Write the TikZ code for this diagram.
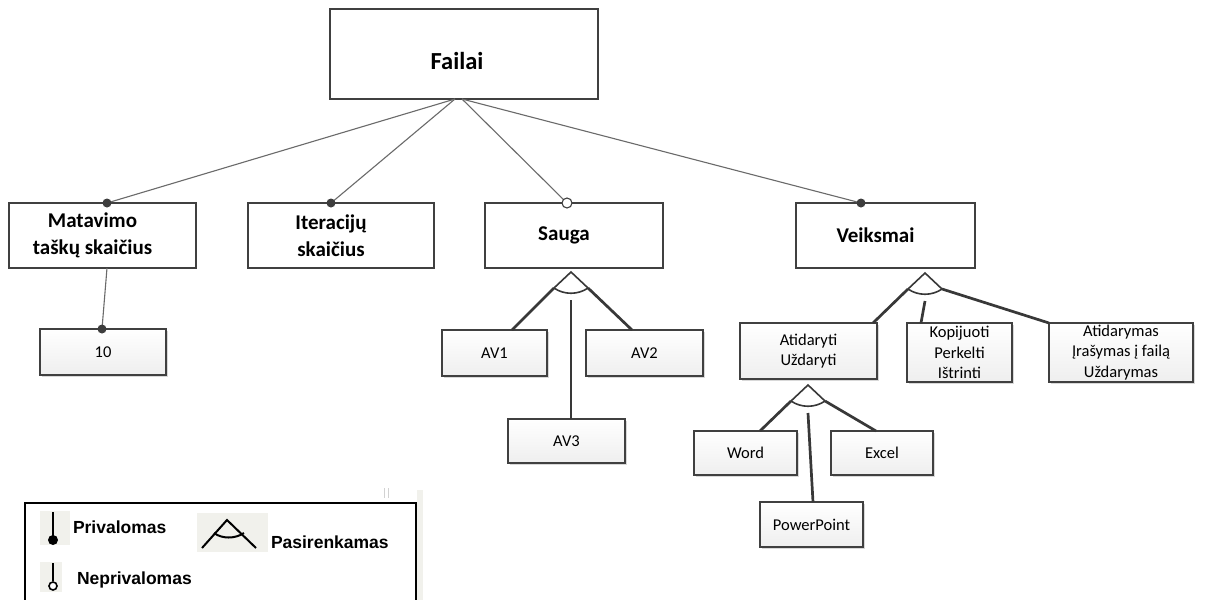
\documentclass[tikz,border=0pt]{standalone}
\usepackage{fontspec}
\setmainfont{Carlito}
\newfontfamily\legendfont{Liberation Sans}
\usetikzlibrary{shadows}

\definecolor{boxline}{HTML}{404040}
\definecolor{linkgrey}{HTML}{6a6a6a}
\definecolor{linkdark}{HTML}{383838}
\definecolor{dotgrey}{HTML}{3d3d3d}
\definecolor{scanhaze}{HTML}{F1F1EC}

\tikzset{
  % "or" group symbol: two legs from the apex joined by an arc
  altgroup/.pic={
    \draw[groupline] (-17,16) -- (0,0) -- (17,16);
    \draw[groupline] (-17,16) .. controls (-7,23) and (7,23) .. (17,16);
    \coordinate (-l) at (-17,16);
    \coordinate (-r) at (17,16);
    \coordinate (-m) at (0,28);
  }
}

\begin{document}
\begin{tikzpicture}[x=1pt,y=-1pt,
  every node/.style={inner sep=0pt, outer sep=0pt},
  frame/.style={rectangle, draw=boxline, line width=1.2pt, fill=white},
  topbox/.style={frame, minimum width=268pt, minimum height=90pt},
  toptext/.style={font=\fontsize{24.5}{29}\selectfont\bfseries},
  featbox/.style={frame, minimum height=65pt},
  feattext/.style={align=center, font=\fontsize{21}{27}\selectfont\bfseries},
  leafbox/.style={frame, top color=white, bottom color=gray!13,
    drop shadow={shadow xshift=1.8pt, shadow yshift=-1.8pt, fill=gray!60, opacity=0.5},
    align=center, font=\fontsize{16.5}{20.5}\selectfont},
  thin link/.style={draw=linkgrey, line width=1.1pt},
  thick link/.style={draw=linkdark, line width=2.7pt},
  groupline/.style={draw=linkdark, line width=1.6pt},
  dot/.style={circle, fill=dotgrey, minimum size=9pt},
  open dot/.style={circle, draw=dotgrey, fill=white, line width=1.1pt, minimum size=10pt},
  legendtext/.style={anchor=west, font=\legendfont\bfseries\fontsize{17.5}{20}\selectfont},
  legendline/.style={draw=black, line width=2pt},
]
\clip (0,0) rectangle (1219,600);
\fill[white] (0,0) rectangle (1219,600);

% root
\node[topbox, label={[toptext, xshift=-7pt, yshift=-7pt]center:Failai}] (failai) at (464,54) {};

% first level features
\node[featbox, minimum width=187pt, label={[feattext, xshift=-10pt]center:Matavimo\\taškų skaičius}] (mat) at (102.5,235.5) {};
\node[featbox, minimum width=186pt, label={[feattext, xshift=-10pt]center:Iteracijų\\skaičius}] (iter) at (341,235.5) {};
\node[featbox, minimum width=178pt, label={[feattext, xshift=-10pt]center:Sauga}] (sauga) at (574,235.5) {};
\node[featbox, minimum width=179pt, label={[feattext, xshift=-10pt]center:Veiksmai}] (veik) at (885.5,235.5) {};

% leaves
\node[leafbox, minimum width=126pt, minimum height=46pt] (ten) at (103,352) {10};
\node[leafbox, minimum width=105pt, minimum height=46pt] (av1) at (494.5,353) {AV1};
\node[leafbox, minimum width=117pt, minimum height=46pt] (av2) at (644.5,353) {AV2};
\node[leafbox, minimum width=117pt, minimum height=44pt] (av3) at (566.5,441) {AV3};
\node[leafbox, minimum width=137pt, minimum height=56pt] (atid) at (808.5,351) {Atidaryti\\Uždaryti};
\node[leafbox, minimum width=105pt, minimum height=59pt] (kop) at (959.5,352.5) {Kopijuoti\\Perkelti\\Ištrinti};
\node[leafbox, minimum width=144pt, minimum height=59pt] (atm) at (1121,352.5) {Atidarymas\\Įrašymas į failą\\Uždarymas};
\node[leafbox, minimum width=103pt, minimum height=44pt] (word) at (745.5,453) {Word};
\node[leafbox, minimum width=102pt, minimum height=44pt] (excel) at (882,453) {Excel};
\node[leafbox, minimum width=103pt, minimum height=45pt] (pp) at (811.5,524.5) {PowerPoint};

% root connectors
\coordinate (fL) at ([xshift=-9pt]failai.south);
\coordinate (fR) at ([xshift=-2pt]failai.south);
\coordinate (mTop) at ([xshift=4.5pt]mat.north);
\coordinate (iTop) at ([xshift=-10pt]iter.north);
\coordinate (sTop) at ([xshift=-7pt]sauga.north);
\coordinate (vTop) at ([xshift=-24.5pt]veik.north);
\coordinate (mBot) at ([xshift=4.5pt]mat.south);
\coordinate (tTop) at ([xshift=-1pt]ten.north);
\draw[thin link] (fL) -- (mTop);
\draw[thin link] (fL) -- (iTop);
\draw[thin link] (fR) -- (sTop);
\draw[thin link] (fR) -- (vTop);
\draw[thin link] (mBot) -- (tTop);
\node[dot] at (mTop) {};
\node[dot] at (iTop) {};
\node[open dot] at (sTop) {};
\node[dot] at (vTop) {};
\node[dot] at (tTop) {};

% Sauga alternatives
\pic (sg) at ([xshift=-3pt, yshift=-4pt]sauga.south) {altgroup};
\draw[thick link] (sg-l) -- ([xshift=17.5pt]av1.north);
\draw[thick link] (sg-r) -- ([xshift=-12.5pt]av2.north);
\draw[thick link] (sg-m) -- ([xshift=4.5pt]av3.north);

% Veiksmai alternatives
\pic (vk) at ([xshift=39.5pt, yshift=-5pt]veik.south) {altgroup};
\draw[thick link] (vk-l) -- ([xshift=64.5pt]atid.north);
\draw[thick link] (vk-m) -- ([xshift=-38.5pt]kop.north);
\draw[thick link] (vk-r) -- (atm.north west);

% file type alternatives
\pic (at) at ([xshift=-0.5pt, yshift=-6pt]atid.south) {altgroup};
\draw[thick link] (at-l) -- ([xshift=14.5pt]word.north);
\draw[thick link] (at-r) -- ([xshift=-6pt]excel.north);
\draw[thick link] (at-m) -- ([xshift=1.5pt]pp.north);

% legend
\fill[scanhaze] (417,490) rectangle (423,600);
\draw[gray!35, line width=0.8pt] (384,488) -- (384,498) (388,488) -- (388,498);
\node[rectangle, draw=black, line width=1.3pt, fill=white, minimum width=391pt, minimum height=107pt] (legend) at (220.5,556.5) {};
\fill[scanhaze] (40,511) rectangle (70,545);
\fill[scanhaze] (197,513) rectangle (268,552);
\fill[scanhaze] (40,562) rectangle (62,592);
\draw[legendline] (53,512) -- (53,536);
\fill[black] (53,540) circle (5);
\draw[legendline] (53,563) -- (53,581);
\draw[black, line width=1.6pt, fill=white] (53,586) circle (4);
\draw[legendline] (202,548) -- (227,520) -- (256,548);
\draw[legendline] (214,533) .. controls (222,539) and (235,539) .. (244,533);
\node[legendtext] (priv) at (73,527) {Privalomas};
\node[legendtext] (pasi) at (271,542) {Pasirenkamas};
\node[legendtext] (nepriv) at (77,580) {Neprivalomas};
\end{tikzpicture}
\end{document}
